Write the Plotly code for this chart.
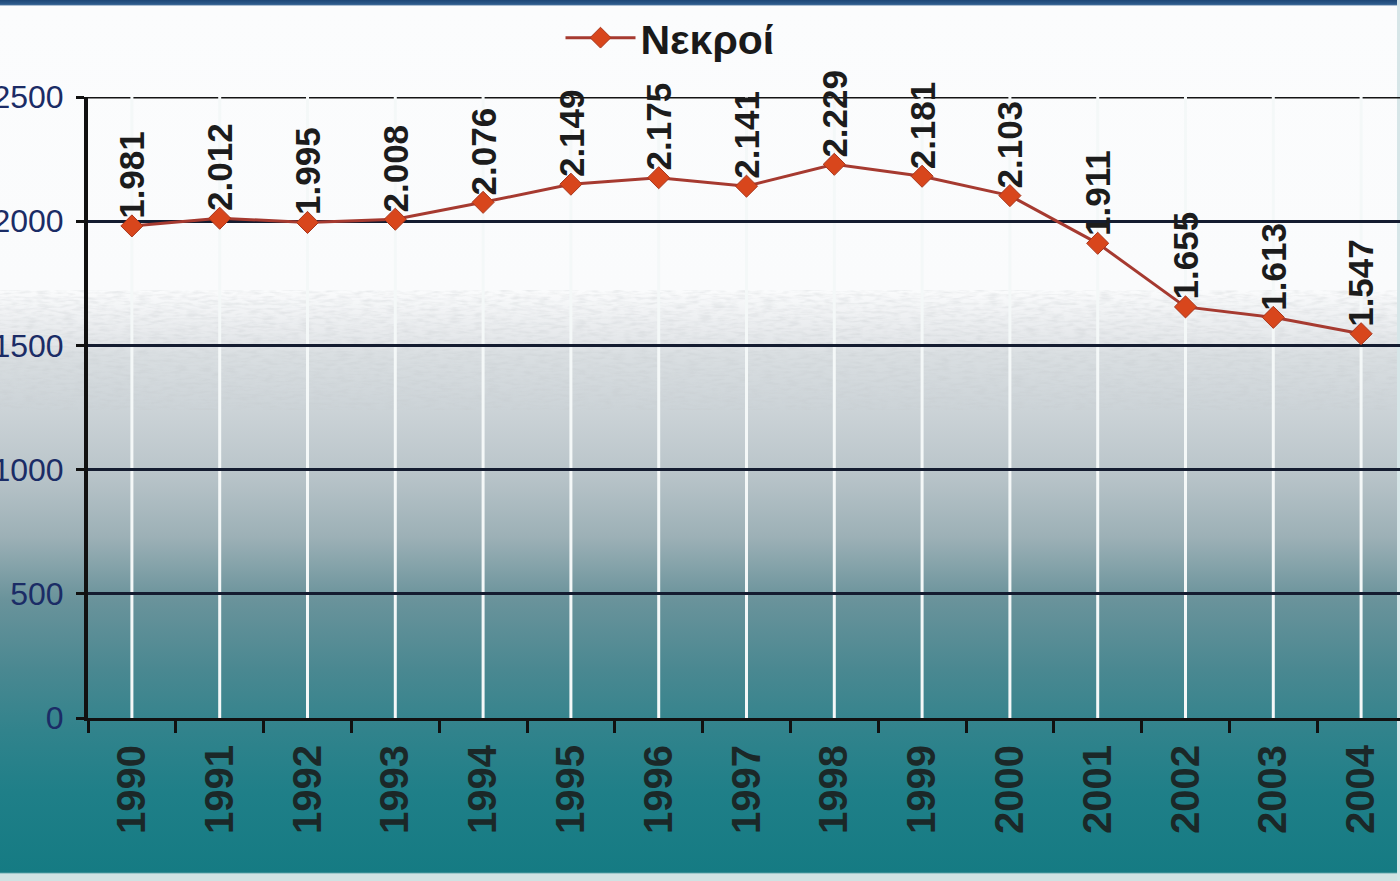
import base64
import plotly.graph_objects as go

# Road deaths per year
years = ["1990", "1991", "1992", "1993", "1994", "1995", "1996", "1997",
         "1998", "1999", "2000", "2001", "2002", "2003", "2004"]
deaths = [1981, 2012, 1995, 2008, 2076, 2149, 2175, 2141,
          2229, 2181, 2103, 1911, 1655, 1613, 1547]
series_name = "Νεκροί"
y_ticks = [0, 500, 1000, 1500, 2000, 2500]

W, H = 1400, 881
L, R, T, B = 88, 0, 97, 163
pw, ph = W - L - R, H - T - B

# Background: white top fading through grey into teal, thin blue band on top
stops = [
    (0.000, "#1d4676"), (0.005, "#2f5d8e"), (0.007, "#fbfcfd"),
    (0.330, "#fafbfc"), (0.360, "#eef0f2"), (0.392, "#e2e5e8"),
    (0.400, "#dadfe2"), (0.460, "#cdd4d8"), (0.535, "#bac5ca"),
    (0.610, "#9cb0b6"), (0.680, "#6a939b"), (0.760, "#4a8891"),
    (0.830, "#31838c"), (0.900, "#1f7f88"), (0.990, "#157b83"),
    (0.992, "#cfe3e3"), (1.000, "#cfe3e3"),
]
stop_xml = "".join(
    f'<stop offset="{o}" stop-color="{c}"/>' for o, c in stops
)
svg = (
    f'<svg xmlns="http://www.w3.org/2000/svg" width="{W}" height="{H}">'
    f'<defs><linearGradient id="g" x1="0" y1="0" x2="0" y2="1">{stop_xml}'
    f'</linearGradient>'
    f'<filter id="n" x="0" y="0" width="1" height="1">'
    f'<feTurbulence type="fractalNoise" baseFrequency="0.08 0.35" numOctaves="2" seed="4"/>'
    f'<feColorMatrix type="matrix" values="0 0 0 0 0.55  0 0 0 0 0.58  0 0 0 0 0.6  0 0 0 1.4 -0.55"/>'
    f'</filter></defs>'
    f'<rect width="{W}" height="{H}" fill="url(#g)"/>'
    f'<rect x="0" y="290" width="{W}" height="120" filter="url(#n)" opacity="0.5"/>'
    f'<rect x="{W-3}" y="0" width="3" height="{H}" fill="#d6e6e8"/>'
    f'</svg>'
)
bg_uri = "data:image/svg+xml;base64," + base64.b64encode(svg.encode()).decode()

fig = go.Figure()

fig.add_trace(go.Scatter(
    x=years, y=deaths, name=series_name, mode="lines+markers",
    line=dict(color="#a63a30", width=3),
    marker=dict(symbol="diamond", size=17, color="#d8461c",
                line=dict(color="#a8361c", width=1)),
    showlegend=True,
))

# Rotated value labels above each point, Greek thousands separator
annotations = []
for i, v in enumerate(deaths):
    annotations.append(dict(
        x=i, y=v, xref="x", yref="y",
        text=f"{v:,}".replace(",", "."),
        textangle=-90, showarrow=False,
        xanchor="center", yanchor="bottom", yshift=5,
        font=dict(family="Liberation Sans, Arial", size=35,
                  color="#1c1c1c", weight="bold"),
    ))

# White vertical guide lines at each category, plus the top grid line
shapes = []
for i in range(len(years)):
    shapes.append(dict(
        type="line", xref="x", yref="y", x0=i, x1=i,
        y0=y_ticks[0], y1=y_ticks[-1], layer="below",
        line=dict(color="#f4f8f8", width=3),
    ))
shapes.append(dict(
    type="line", xref="paper", yref="y", x0=0, x1=1,
    y0=y_ticks[-1], y1=y_ticks[-1], layer="below",
    line=dict(color="#141414", width=3),
))

fig.update_layout(
    width=W, height=H,
    margin=dict(l=L, r=R, t=T, b=B, pad=0, autoexpand=False),
    paper_bgcolor="rgba(0,0,0,0)",
    plot_bgcolor="rgba(0,0,0,0)",
    images=[dict(
        source=bg_uri, xref="paper", yref="paper",
        x=-L / pw, y=1 + T / ph, sizex=W / pw, sizey=H / ph,
        xanchor="left", yanchor="top", sizing="stretch", layer="below",
    )],
    shapes=shapes,
    annotations=annotations,
    showlegend=True,
    legend=dict(
        orientation="h", x=(670 - L) / pw, y=1 + (T - 38) / ph,
        xanchor="center", yanchor="middle",
        bgcolor="rgba(0,0,0,0)", itemwidth=70,
        font=dict(family="Liberation Sans, Arial", size=41,
                  color="#1a1a1a", weight="bold"),
    ),
    xaxis=dict(
        type="category", categoryorder="array", categoryarray=years,
        range=[-0.5, len(years) - 0.5 - 5 / 87.8],
        tickson="boundaries", ticks="outside", ticklen=12, tickwidth=3,
        tickcolor="#111", showline=True, linecolor="#111", linewidth=3,
        showgrid=False, tickangle=-90, ticklabelstandoff=8,
        automargin=False,
        tickfont=dict(family="Liberation Sans, Arial", size=40,
                      color="#1b2828", weight="bold"),
    ),
    yaxis=dict(
        range=[y_ticks[0], y_ticks[-1]], tickvals=y_ticks,
        ticks="outside", ticklen=8, tickwidth=3, tickcolor="#111",
        showline=True, linecolor="#111", linewidth=4,
        showgrid=True, gridcolor="#141c30", gridwidth=3,
        zeroline=False, ticklabelstandoff=6, automargin=False,
        tickfont=dict(family="Liberation Sans, Arial", size=32,
                      color="#1b2c66"),
    ),
)

fig.write_html("out.html")
